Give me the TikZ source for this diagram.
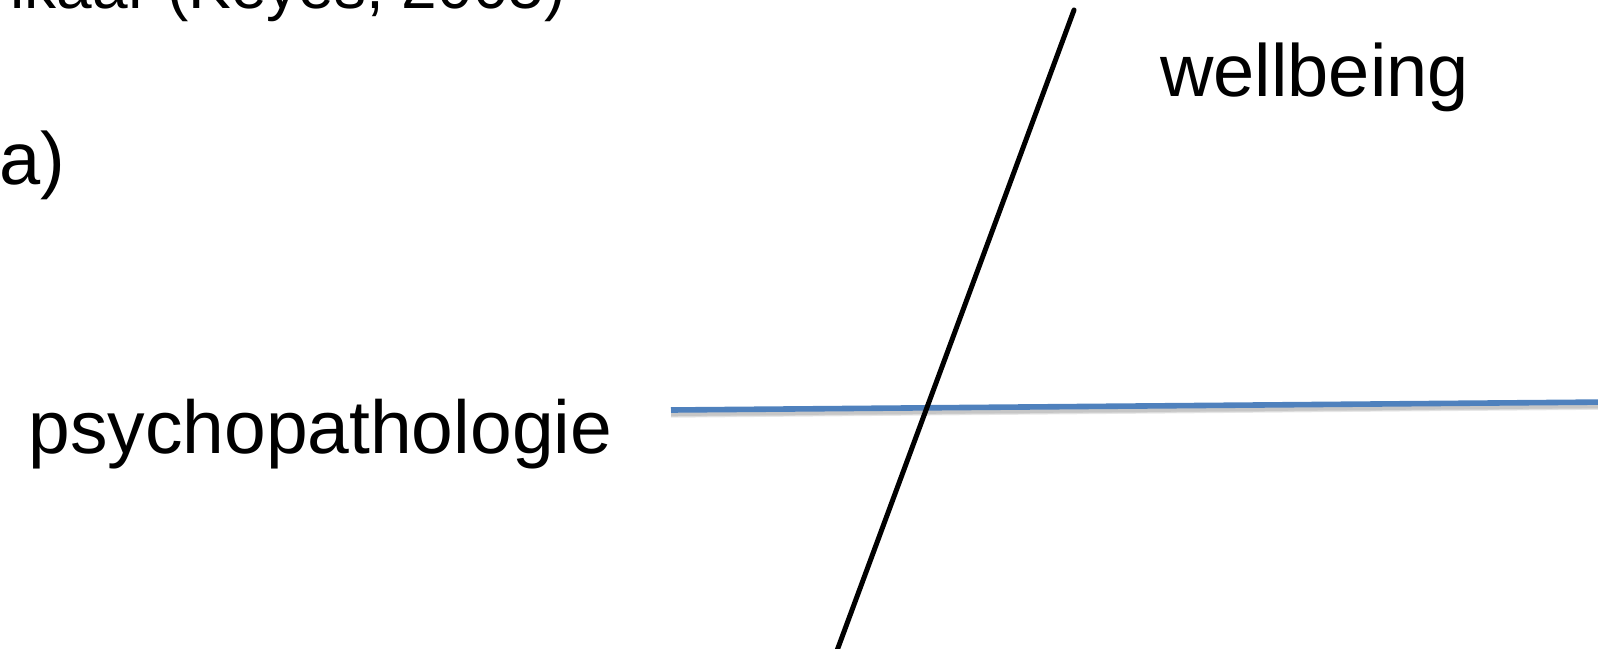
\documentclass[tikz,border=0pt]{standalone}
\usepackage{fontspec}
\setmainfont{Liberation Sans}
\definecolor{lijnblauw}{RGB}{79,129,189}
\begin{document}
\begin{tikzpicture}[x=0.5pt, y=-0.5pt, line join=round, line cap=round,
	tekst/.style={inner sep=0pt, font=\fontsize{37}{44}\selectfont},
	kop/.style={inner sep=0pt, font=\fontsize{32}{38}\selectfont},
	schaduw/.style={gray, line width=#1, line cap=butt, opacity=0.18}]
	\def\W{1598} \def\H{648} % Afmetingen
	\useasboundingbox (0,0) rectangle (\W,\H);
	\node[kop, anchor=base east] (bron) at (566,9) {lkaar (Keyes, 2005)};
	\node[tekst, anchor=base west] (deel) at (-1,184) {a)};
	\node[tekst, anchor=base west, font=\fontsize{37.5}{44}\selectfont] (psy) at (28,453) {psychopathologie};
	\node[tekst, anchor=base west] (wel) at (1160,96) {wellbeing};
	\coordinate (wtop) at (1074,10);
	\coordinate (wbot) at (835,656);
	\coordinate (pl) at (671,410);
	\coordinate (pr) at (1610,402);
	\foreach \d/\b in {1.6/4.5pt, 1.8/3.2pt, 2/2pt}
		\draw[schaduw=\b] ([yshift=-\d pt]pl) -- ([yshift=-\d pt]pr);
	\draw[lijnblauw, line width=2.8pt, line cap=butt] (pl) -- (pr);
	\draw[black, line width=2.5pt] (wtop) -- (wbot);
\end{tikzpicture}
\end{document}
